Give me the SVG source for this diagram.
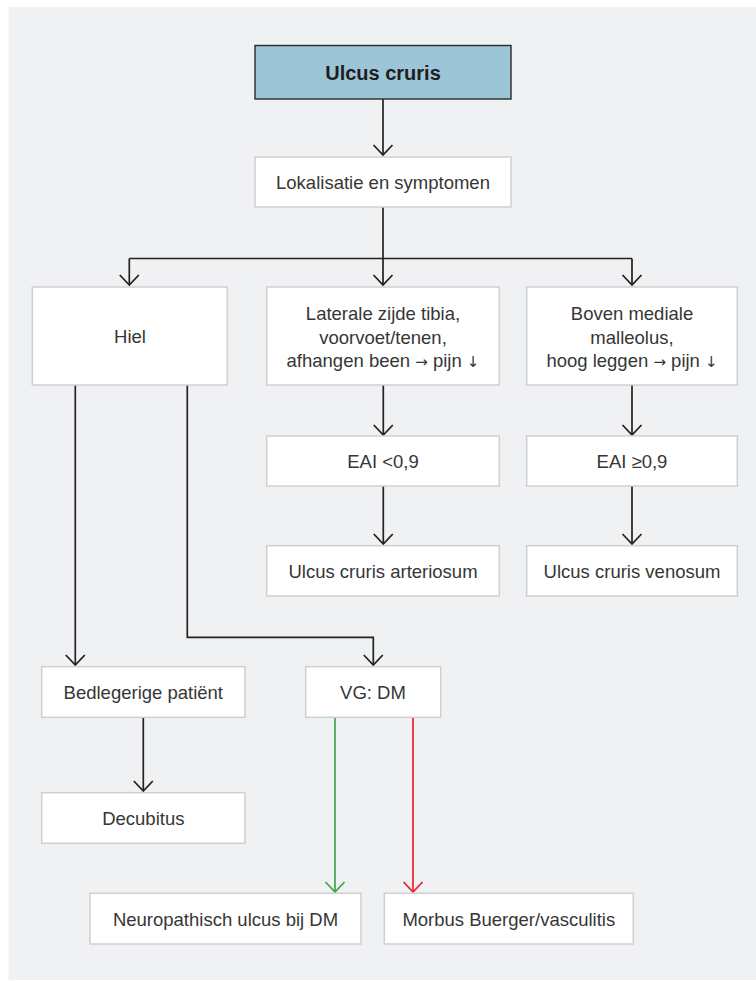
<svg xmlns="http://www.w3.org/2000/svg" width="756" height="981" viewBox="0 0 756 981">
<style>
.box{fill:#ffffff;stroke:#cfd0d2;stroke-width:1.5}
.top{fill:#9dc5d8;stroke:#2a2a2a;stroke-width:1.4}
.t{font-family:"Liberation Sans",Arial,sans-serif;font-size:18.5px;fill:#363636;text-anchor:middle}
.tb{font-family:"Liberation Sans",Arial,sans-serif;font-size:20px;font-weight:bold;fill:#1e1e1e;text-anchor:middle}
.sym{font-family:"DejaVu Sans",sans-serif;font-size:15px;fill:#363636}
.c{fill:none;stroke:#222222;stroke-width:1.7}
.g{fill:none;stroke:#3aa94a;stroke-width:1.7}
.r{fill:none;stroke:#e8232b;stroke-width:1.7}
</style>
<defs>
<marker id="ah" markerUnits="userSpaceOnUse" markerWidth="30" markerHeight="30" refX="0" refY="0" orient="auto" viewBox="-15 -15 30 30" overflow="visible">
<path d="M-10,-9.5 L0,0 L-10,9.5" fill="none" stroke="#222222" stroke-width="1.8"/>
</marker>
<marker id="ahg" markerUnits="userSpaceOnUse" markerWidth="30" markerHeight="30" refX="0" refY="0" orient="auto" viewBox="-15 -15 30 30" overflow="visible">
<path d="M-10,-9.5 L0,0 L-10,9.5" fill="none" stroke="#3aa94a" stroke-width="1.8"/>
</marker>
<marker id="ahr" markerUnits="userSpaceOnUse" markerWidth="30" markerHeight="30" refX="0" refY="0" orient="auto" viewBox="-15 -15 30 30" overflow="visible">
<path d="M-10,-9.5 L0,0 L-10,9.5" fill="none" stroke="#e8232b" stroke-width="1.8"/>
</marker>
</defs>
<rect x="8.5" y="7" width="747.5" height="973" fill="#f0f1f3"/>

<g id="connectors">
<path class="c" d="M383,99 L383,155" marker-end="url(#ah)"/>
<path class="c" d="M383,207 L383,258.5"/>
<path class="c" d="M129.3,258.5 L632,258.5"/>
<path class="c" d="M129.3,258.5 L129.3,285" marker-end="url(#ah)"/>
<path class="c" d="M383,258.5 L383,285" marker-end="url(#ah)"/>
<path class="c" d="M632,258.5 L632,285" marker-end="url(#ah)"/>
<path class="c" d="M383.3,385 L383.3,435" marker-end="url(#ah)"/>
<path class="c" d="M383.3,486 L383.3,544" marker-end="url(#ah)"/>
<path class="c" d="M632,385 L632,435" marker-end="url(#ah)"/>
<path class="c" d="M632,486 L632,544" marker-end="url(#ah)"/>
<path class="c" d="M75.3,385 L75.3,665" marker-end="url(#ah)"/>
<path class="c" d="M187.3,385 L187.3,637.3 L373.3,637.3 L373.3,665" marker-end="url(#ah)"/>
<path class="c" d="M143.3,717 L143.3,791" marker-end="url(#ah)"/>
<path class="g" d="M335,717 L335,892" marker-end="url(#ahg)"/>
<path class="r" d="M413,717 L413,892" marker-end="url(#ahr)"/>
</g>

<g id="n-ulcus-cruris">
<rect class="top" x="255" y="45.5" width="256" height="53.5"/>
<text class="tb" x="383" y="79.5">Ulcus cruris</text>
</g>
<g id="n-lokalisatie">
<rect class="box" x="255" y="157" width="256" height="50"/>
<text class="t" x="383" y="189">Lokalisatie en symptomen</text>
</g>
<g id="n-hiel">
<rect class="box" x="32.3" y="287" width="195" height="98"/>
<text class="t" x="130" y="343">Hiel</text>
</g>
<g id="n-laterale">
<rect class="box" x="266.7" y="287" width="232.6" height="98"/>
<text class="t" x="383" y="320">Laterale zijde tibia,</text>
<text class="t" x="383" y="343.5">voorvoet/tenen,</text>
<text class="t" x="383" y="367">afhangen been <tspan class="sym">→</tspan> pijn <tspan class="sym">↓</tspan></text>
</g>
<g id="n-boven">
<rect class="box" x="526.7" y="287" width="210.6" height="98"/>
<text class="t" x="632" y="320">Boven mediale</text>
<text class="t" x="632" y="343.5">malleolus,</text>
<text class="t" x="632" y="367">hoog leggen <tspan class="sym">→</tspan> pijn <tspan class="sym">↓</tspan></text>
</g>
<g id="n-eai-lt">
<rect class="box" x="266.7" y="436" width="232.6" height="50"/>
<text class="t" x="383" y="468">EAI &lt;0,9</text>
</g>
<g id="n-eai-ge">
<rect class="box" x="526.7" y="436" width="210.6" height="50"/>
<text class="t" x="632" y="468">EAI ≥0,9</text>
</g>
<g id="n-arteriosum">
<rect class="box" x="266.7" y="545.7" width="232.6" height="50.3"/>
<text class="t" x="383" y="578">Ulcus cruris arteriosum</text>
</g>
<g id="n-venosum">
<rect class="box" x="526.7" y="545.7" width="210.6" height="50.3"/>
<text class="t" x="632" y="578">Ulcus cruris venosum</text>
</g>
<g id="n-bedlegerig">
<rect class="box" x="41.7" y="666.7" width="203.3" height="50.6"/>
<text class="t" x="143.3" y="699">Bedlegerige patiënt</text>
</g>
<g id="n-vgdm">
<rect class="box" x="305.7" y="666.7" width="135" height="50.6"/>
<text class="t" x="373" y="699">VG: DM</text>
</g>
<g id="n-decubitus">
<rect class="box" x="41.7" y="792.7" width="203.3" height="50.6"/>
<text class="t" x="143.3" y="825">Decubitus</text>
</g>
<g id="n-neuropathisch">
<rect class="box" x="90" y="893.3" width="271" height="50.7"/>
<text class="t" x="225.5" y="926">Neuropathisch ulcus bij DM</text>
</g>
<g id="n-morbus">
<rect class="box" x="384.3" y="893.3" width="249" height="50.7"/>
<text class="t" x="508.8" y="926">Morbus Buerger/vasculitis</text>
</g>
</svg>
